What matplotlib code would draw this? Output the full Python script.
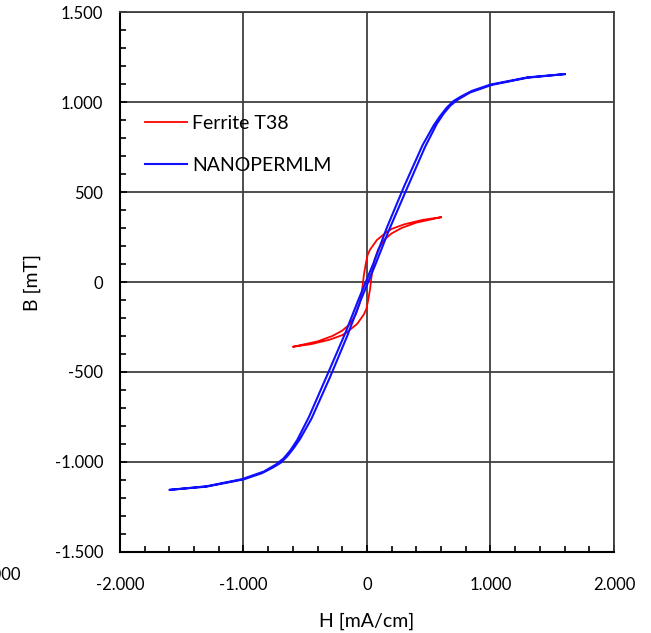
import matplotlib.pyplot as plt
from matplotlib.ticker import MultipleLocator, FixedLocator

# NANOPERM LM loop (descending branch, then ascending branch)
nano_h_down = [1600, 1300, 1000, 850, 760, 700, 645, 590, 540, 450, 300, 160, 50, -10,
               -70, -175, -315, -470, -565, -620, -675, -735, -835, -1010, -1300, -1600]
nano_b_down = [1155, 1137, 1097, 1062, 1030, 1005, 968, 920, 870, 760, 530, 300, 100, 0,
               -100, -283, -506, -750, -878, -935, -980, -1013, -1053, -1095, -1135, -1155]
nano_h_up = [-1600, -1300, -1000, -850, -760, -700, -645, -590, -540, -450, -300, -160, -50, 10,
             70, 175, 315, 470, 565, 620, 675, 735, 835, 1010, 1300, 1600]
nano_b_up = [-1155, -1137, -1097, -1062, -1030, -1005, -968, -920, -870, -760, -530, -300, -100, 0,
             100, 283, 506, 750, 878, 935, 980, 1013, 1053, 1095, 1135, 1155]

# Ferrite T38 loop
fer_h_down = [600, 450, 300, 200, 160, 80, 25, 5, -10, -25, -35, -45, -60, -90,
              -140, -200, -280, -400, -600]
fer_b_down = [360, 345, 320, 295, 278, 233, 180, 150, 100, 40, -20, -70, -120, -180,
              -235, -270, -300, -330, -360]
fer_h_up = [-600, -450, -300, -200, -160, -80, -25, -5, 10, 25, 35, 45, 60, 90,
            140, 200, 280, 400, 600]
fer_b_up = [-360, -345, -320, -295, -278, -233, -180, -150, -100, -40, 20, 70, 120, 180,
            235, 270, 300, 330, 360]

x_ticks = [-2000, -1000, 0, 1000, 2000]
x_labels = ['-2.000', '-1.000', '0', '1.000', '2.000']
y_ticks = [-1500, -1000, -500, 0, 500, 1000, 1500]
y_labels = ['-1.500', '-1.000', '-500', '0', '500', '1.000', '1.500']

plt.rcParams['font.family'] = ['Lato', 'DejaVu Sans']

fig = plt.figure(figsize=(6.51, 6.33), dpi=100)
ax = fig.add_axes([0.1843, 0.128, 0.7588, 0.853])

ax.plot(fer_h_down + fer_h_up, fer_b_down + fer_b_up, color='#ff0000', lw=1.3,
        label='Ferrite T38', zorder=3)
ax.plot(nano_h_down + nano_h_up, nano_b_down + nano_b_up, color='#1010ff', lw=1.5,
        label='NANOPERMLM', zorder=3)

ax.set_xlim(-2000, 2000)
ax.set_ylim(-1500, 1500)
ax.xaxis.set_major_locator(FixedLocator(x_ticks))
ax.set_xticklabels(x_labels)
ax.yaxis.set_major_locator(FixedLocator(y_ticks))
ax.set_yticklabels(y_labels)
ax.xaxis.set_minor_locator(MultipleLocator(200))
ax.yaxis.set_minor_locator(MultipleLocator(100))
ax.tick_params(which='both', direction='in', labelsize=12, colors='black',
               top=False, right=False)
ax.tick_params(which='major', length=5, width=1.2)
ax.tick_params(which='minor', length=4, width=1.2)
ax.tick_params(axis='x', pad=18)
ax.tick_params(axis='y', pad=12)

ax.grid(True, which='major', color='#404040', lw=1.3)
ax.set_axisbelow(True)
for s in ['top', 'right']:
    ax.spines[s].set_color('#404040')
    ax.spines[s].set_linewidth(1.3)
for s in ['left', 'bottom']:
    ax.spines[s].set_color('black')
    ax.spines[s].set_linewidth(1.5)

# cut-off label from the original at the left edge
ax.text(-3000, -0.028, '-3.000', transform=ax.get_xaxis_transform(), ha='center',
        va='top', fontsize=12, clip_on=False)

ax.set_xlabel('H [mA/cm]', fontsize=14, labelpad=14)
ax.set_ylabel('B [mT]', fontsize=14, labelpad=10)

ax.legend(loc='upper left', bbox_to_anchor=(0.05, 0.81), frameon=False,
          fontsize=14, handlelength=2.2, handletextpad=0.25, labelspacing=1.3,
          borderpad=0, borderaxespad=0)

plt.savefig('out.png', dpi=100)
plt.close()
